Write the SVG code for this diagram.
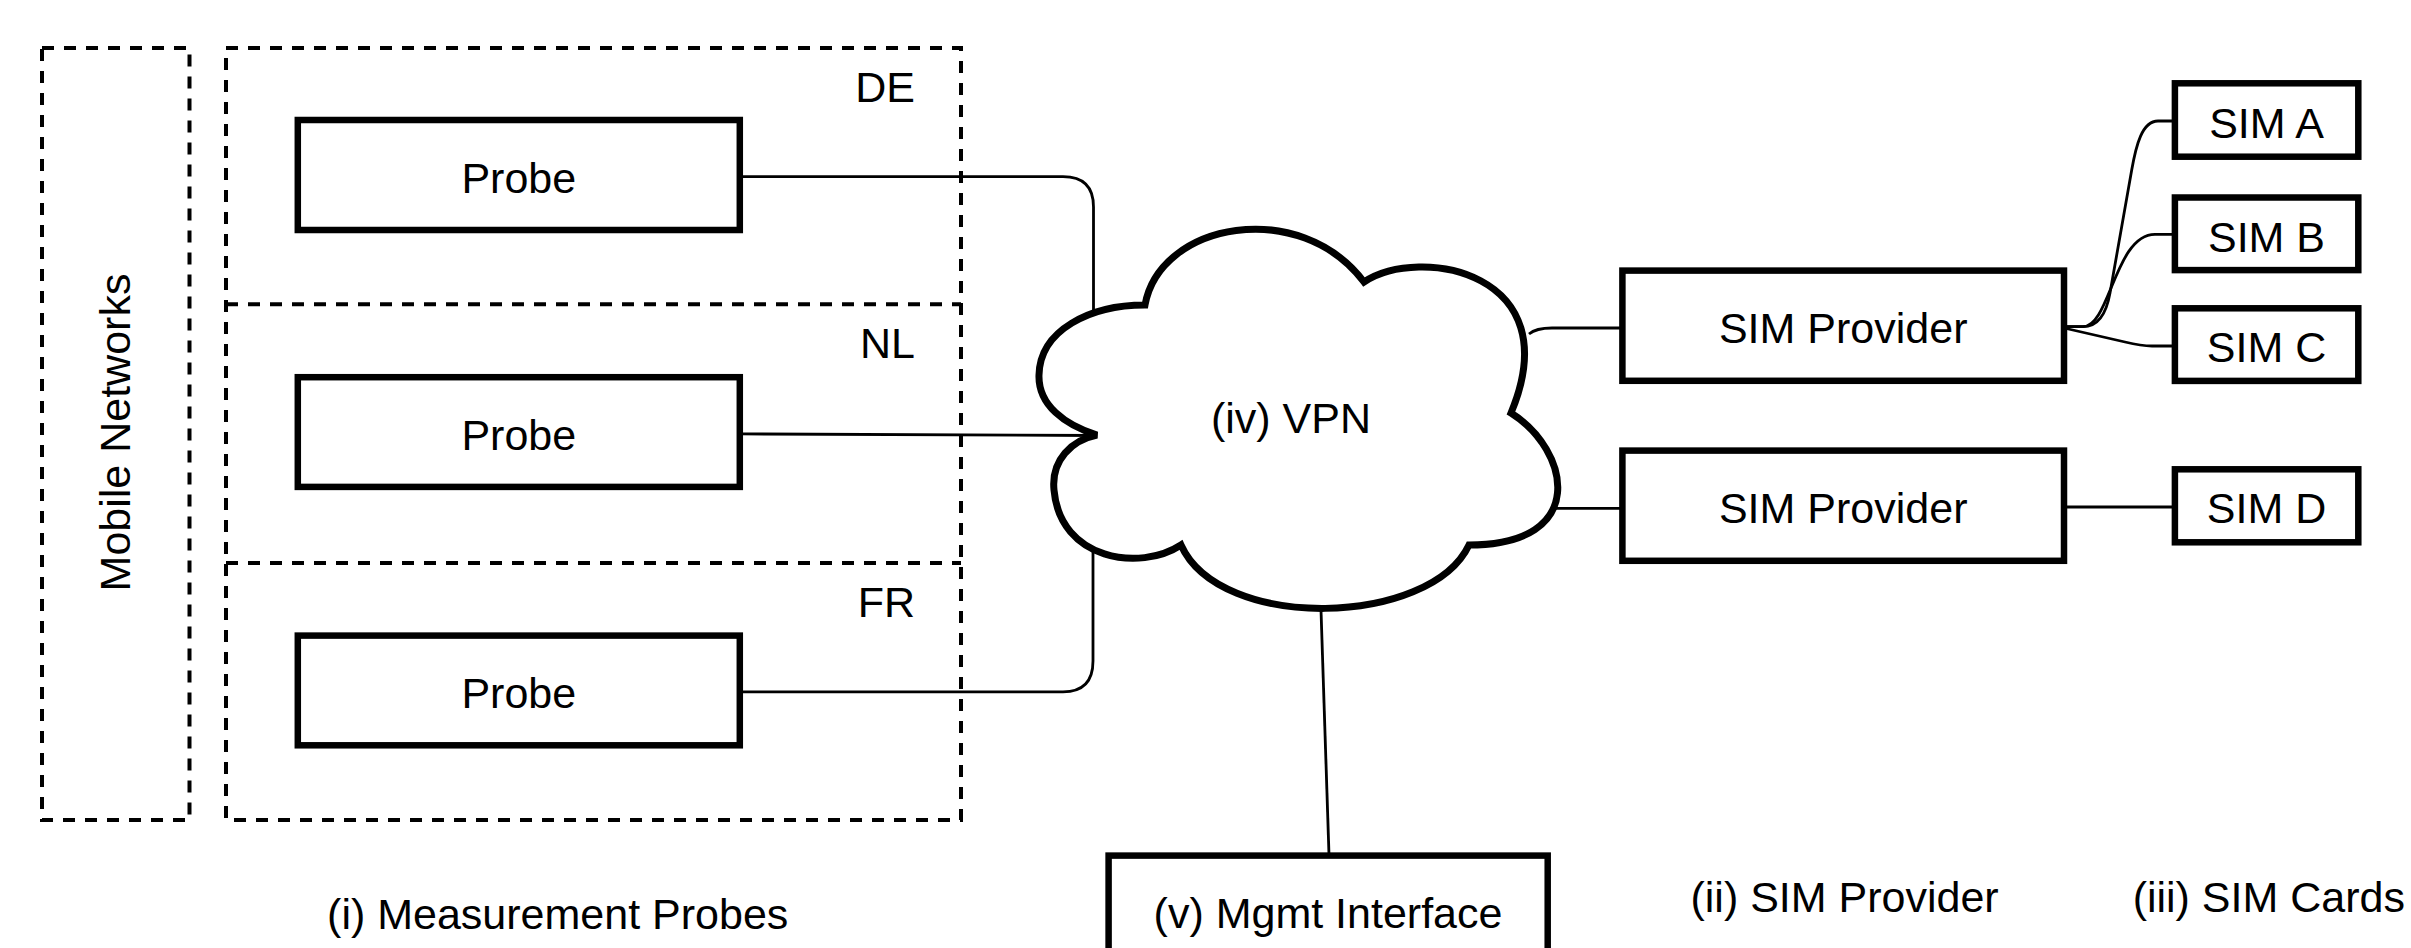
<svg xmlns="http://www.w3.org/2000/svg" width="2411" height="948" viewBox="0 0 2411 948">
<style>
  text { font-family: "Liberation Sans", Arial, Helvetica, sans-serif; font-size: 43px; fill: #000; }
  .mid { text-anchor: middle; }
  .end { text-anchor: end; }
  .dash { fill: none; stroke: #000; stroke-width: 4; stroke-dasharray: 12 10; }
  .box { fill: #fff; stroke: #000; stroke-width: 6.5; }
  .conn { fill: none; stroke: #000; stroke-width: 2.8; }
  .cloud { fill: #fff; stroke: #000; stroke-width: 7; stroke-linejoin: miter; }
</style>
<rect width="2411" height="948" fill="#fff"/>

<g id="regions">
  <rect id="mobile-networks" class="dash" x="42" y="48" width="147.5" height="772"/>
  <text class="mid" transform="translate(130,432.5) rotate(-90)" font-size="44">Mobile Networks</text>
  <rect id="probes-region" class="dash" x="226" y="48" width="735" height="772"/>
  <line class="dash" x1="226" y1="304.3" x2="961" y2="304.3"/>
  <line class="dash" x1="226" y1="562.9" x2="961" y2="562.9"/>
  <text class="end" x="915" y="101.7">DE</text>
  <text class="end" x="915" y="358.3">NL</text>
  <text class="end" x="915" y="616.7">FR</text>
</g>

<g id="connectors">
  <path class="conn" d="M740,176.7 L1063,176.7 Q1093.5,176.7 1093.5,207 L1093.5,310"/>
  <path class="conn" d="M740,433.9 L1097,435.5"/>
  <path class="conn" d="M740,691.8 L1063,691.8 Q1093,691.8 1093,661 L1093,544"/>
  <path class="conn" d="M1529,334 Q1536,328 1552,328 L1622,328"/>
  <path class="conn" d="M1555,508.3 L1622,508.3"/>
  <path class="conn" d="M1321,610 L1329,855"/>
  <path class="conn" d="M2064,326.7 L2083,326.7 C2100,326.7 2107,310 2110,293 L2131.7,170 C2136,145.6 2142,121 2158,121 L2175,121"/>
  <path class="conn" d="M2064,326.7 L2083,326.7 C2110,326.7 2115,234.3 2155,234.3 L2175,234.3"/>
  <path class="conn" d="M2064,328 L2125,342 C2135,344.4 2142,346 2152,346 L2175,346"/>
  <path class="conn" d="M2064,507 L2175,507"/>
</g>

<g id="probe-de">
  <rect class="box" x="297.8" y="120" width="442" height="110"/>
  <text class="mid" x="518.8" y="192.7">Probe</text>
</g>
<g id="probe-nl">
  <rect class="box" x="297.8" y="377.2" width="442" height="109.7"/>
  <text class="mid" x="518.8" y="449.7">Probe</text>
</g>
<g id="probe-fr">
  <rect class="box" x="297.8" y="635.6" width="442" height="109.7"/>
  <text class="mid" x="518.8" y="708">Probe</text>
</g>

<g id="vpn">
  <path class="cloud" d="M1097,435 C1065,425 1038,405 1039,375 C1040,330 1090,305 1145,305 C1160,222 1300,197 1364,282 C1420,245 1570,272 1511,413 C1570,450 1590,545 1469,545 C1430,627 1220,632 1181,545 C1140,572 1060,560 1054,490 C1051,460 1072,440 1097,435 Z"/>
  <text class="mid" x="1291" y="432.7">(iv) VPN</text>
</g>

<g id="sim-provider-1">
  <rect class="box" x="1622.4" y="270.6" width="441.6" height="110.2"/>
  <text class="mid" x="1843.2" y="343.3">SIM Provider</text>
</g>
<g id="sim-provider-2">
  <rect class="box" x="1622.4" y="450.6" width="441.6" height="110.2"/>
  <text class="mid" x="1843.2" y="523.3">SIM Provider</text>
</g>

<g id="sim-a">
  <rect class="box" x="2174.9" y="83.3" width="183.4" height="73.4"/>
  <text class="mid" x="2266.5" y="138.3">SIM A</text>
</g>
<g id="sim-b">
  <rect class="box" x="2174.9" y="197.5" width="183.4" height="72.6"/>
  <text class="mid" x="2266.5" y="251.7">SIM B</text>
</g>
<g id="sim-c">
  <rect class="box" x="2174.9" y="308.3" width="183.4" height="72.6"/>
  <text class="mid" x="2266.5" y="362.3">SIM C</text>
</g>
<g id="sim-d">
  <rect class="box" x="2174.9" y="469.3" width="183.4" height="73"/>
  <text class="mid" x="2266.5" y="523.3">SIM D</text>
</g>

<g id="mgmt">
  <rect class="box" x="1108.6" y="855.6" width="439.1" height="110"/>
  <text class="mid" x="1328" y="928.3">(v) Mgmt Interface</text>
</g>

<g id="labels">
  <text class="mid" x="557.7" y="929.3">(i) Measurement Probes</text>
  <text class="mid" x="1844.6" y="912">(ii) SIM Provider</text>
  <text class="mid" x="2268.8" y="912">(iii) SIM Cards</text>
</g>
</svg>
